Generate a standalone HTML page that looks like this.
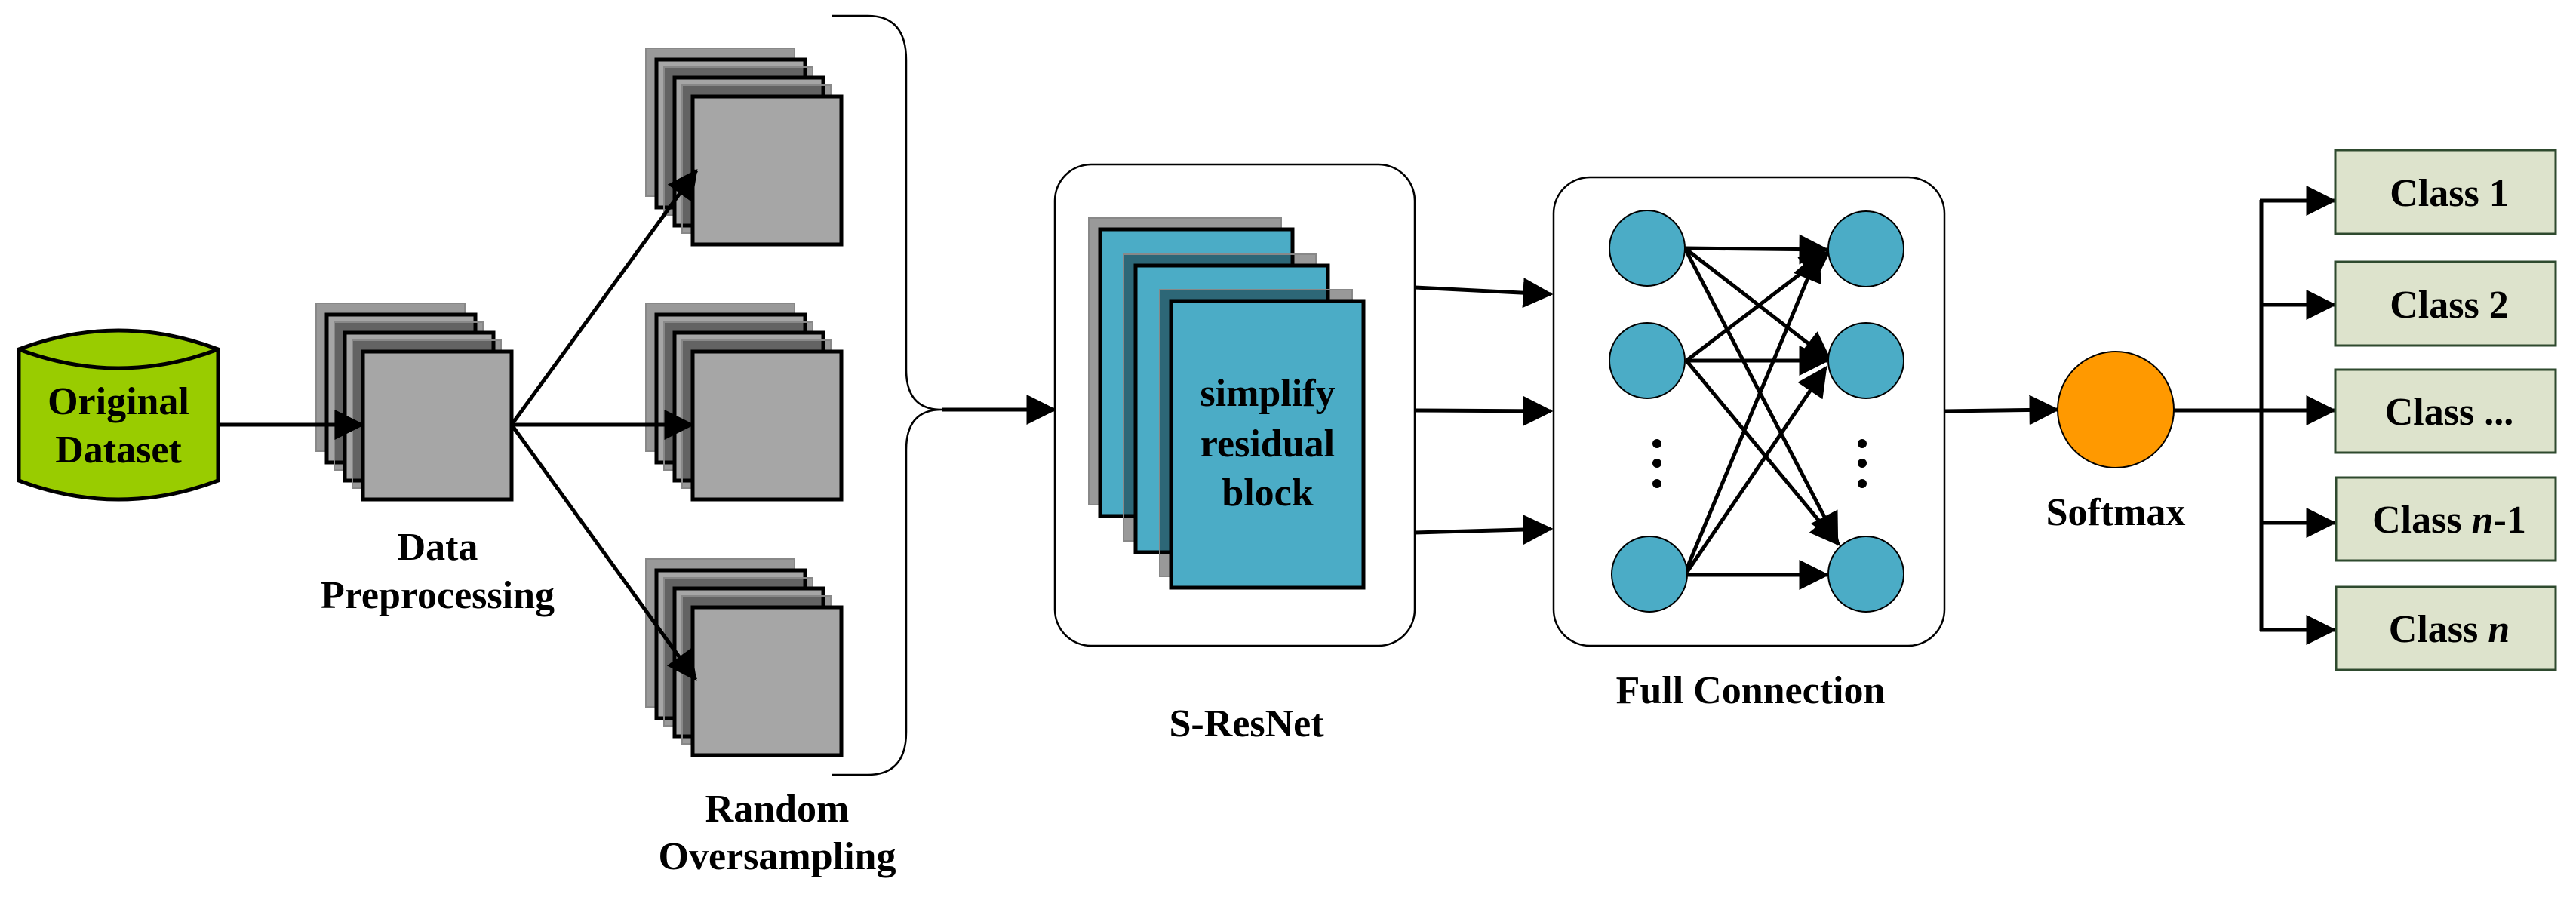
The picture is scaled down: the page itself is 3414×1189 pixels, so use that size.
<!DOCTYPE html>
<html><head><meta charset="utf-8"><style>
html,body{margin:0;padding:0;background:#fff;}
svg{display:block;}
text{font-family:"Liberation Serif",serif;font-weight:bold;fill:#000;}
</style></head><body>
<svg width="3414" height="1189" viewBox="0 0 3414 1189" xmlns="http://www.w3.org/2000/svg">
<defs>
<marker id="ah" markerWidth="8" markerHeight="8" refX="7.5" refY="4" orient="auto" markerUnits="strokeWidth">
<path d="M0,0 L8,4 L0,8 Z" fill="#000"/>
</marker>
<marker id="ahs" markerWidth="8" markerHeight="8" refX="7.5" refY="4" orient="auto" markerUnits="strokeWidth">
<path d="M0,0 L8,4 L0,8 Z" fill="#000"/>
</marker>
<g id="stk">
<rect x="0" y="0" width="197" height="196" fill="#000" fill-opacity="0.4" stroke="#888" stroke-width="2"/>
<rect x="14" y="15" width="197" height="196" fill="#a6a6a6" stroke="#000" stroke-width="5"/>
<rect x="24" y="25" width="197" height="196" fill="#000" fill-opacity="0.4" stroke="#888" stroke-width="2"/>
<rect x="38" y="39" width="197" height="196" fill="#a6a6a6" stroke="#000" stroke-width="5"/>
<rect x="48" y="49" width="197" height="196" fill="#000" fill-opacity="0.4" stroke="#888" stroke-width="2"/>
<rect x="62" y="64" width="197" height="196" fill="#a6a6a6" stroke="#000" stroke-width="5"/>
</g>
</defs>

<!-- Cylinder -->
<path d="M25,463 Q157,413 289,463 L289,637 Q157,687 25,637 Z" fill="#99cc00" stroke="#000" stroke-width="5"/>
<path d="M25,463 Q157,513 289,463" fill="none" stroke="#000" stroke-width="5"/>
<text x="157" y="549" font-size="52" text-anchor="middle">Original</text>
<text x="157" y="613" font-size="52" text-anchor="middle">Dataset</text>

<!-- stacks -->
<use href="#stk" x="419" y="402"/>
<use href="#stk" x="856" y="64"/>
<use href="#stk" x="856" y="402"/>
<use href="#stk" x="856" y="741"/>

<line x1="289" y1="563" x2="481" y2="563" stroke="#000" stroke-width="5" marker-end="url(#ah)"/>
<line x1="678" y1="563" x2="923" y2="226" stroke="#000" stroke-width="5" marker-end="url(#ah)"/>
<line x1="678" y1="563" x2="918" y2="563" stroke="#000" stroke-width="5" marker-end="url(#ah)"/>
<line x1="678" y1="563" x2="922" y2="901" stroke="#000" stroke-width="5" marker-end="url(#ah)"/>

<text x="580" y="742" font-size="52" text-anchor="middle">Data</text>
<text x="580" y="806" font-size="52" text-anchor="middle">Preprocessing</text>
<text x="1030" y="1089" font-size="52" text-anchor="middle">Random</text>
<text x="1030" y="1152" font-size="52" text-anchor="middle">Oversampling</text>

<!-- Brace -->
<path d="M1103,21 L1150,21 Q1201,21 1201,80 L1201,490 Q1201,543 1248,543 Q1201,543 1201,596 L1201,970 Q1201,1027 1150,1027 L1103,1027" fill="none" stroke="#000" stroke-width="2.5"/>
<line x1="1248" y1="543" x2="1398" y2="543" stroke="#000" stroke-width="5" marker-end="url(#ah)"/>

<!-- S-ResNet -->
<rect x="1398" y="218" width="477" height="638" rx="48" ry="48" fill="#fff" stroke="#000" stroke-width="2.5"/>
<rect x="1443" y="289" width="255" height="380" fill="#000" fill-opacity="0.4" stroke="#888" stroke-width="2"/>
<rect x="1458" y="304" width="255" height="380" fill="#4bacc6" stroke="#000" stroke-width="5"/>
<rect x="1489" y="337" width="255" height="380" fill="#000" fill-opacity="0.4" stroke="#888" stroke-width="2"/>
<rect x="1505" y="352" width="255" height="380" fill="#4bacc6" stroke="#000" stroke-width="5"/>
<rect x="1537" y="384" width="255" height="380" fill="#000" fill-opacity="0.4" stroke="#888" stroke-width="2"/>
<rect x="1552" y="399" width="255" height="380" fill="#4bacc6" stroke="#000" stroke-width="5"/>
<text x="1680" y="538" font-size="52" text-anchor="middle">simplify</text>
<text x="1680" y="605" font-size="52" text-anchor="middle">residual</text>
<text x="1680" y="670" font-size="52" text-anchor="middle">block</text>
<text x="1652" y="976" font-size="52" text-anchor="middle">S-ResNet</text>

<line x1="1875" y1="381" x2="2056" y2="390" stroke="#000" stroke-width="5" marker-end="url(#ah)"/>
<line x1="1875" y1="544" x2="2056" y2="545" stroke="#000" stroke-width="5" marker-end="url(#ah)"/>
<line x1="1875" y1="706" x2="2056" y2="701" stroke="#000" stroke-width="5" marker-end="url(#ah)"/>

<!-- Full connection -->
<rect x="2059" y="235" width="518" height="621" rx="48" ry="48" fill="#fff" stroke="#000" stroke-width="2.5"/>
<g stroke="#000" stroke-width="5" marker-end="url(#ahs)">
<line x1="2233" y1="329" x2="2422" y2="331"/>
<line x1="2233" y1="329" x2="2426" y2="478"/>
<line x1="2233" y1="329" x2="2435" y2="718"/>
<line x1="2235" y1="478" x2="2424" y2="334"/>
<line x1="2235" y1="478" x2="2422" y2="478"/>
<line x1="2235" y1="478" x2="2437" y2="722"/>
<line x1="2235" y1="755" x2="2410" y2="335"/>
<line x1="2236" y1="758" x2="2420" y2="487"/>
<line x1="2236" y1="762" x2="2422" y2="762"/>
</g>
<g fill="#4bacc6" stroke="#000" stroke-width="2">
<circle cx="2183" cy="329" r="50"/>
<circle cx="2183" cy="478" r="50"/>
<circle cx="2186" cy="761" r="50"/>
<circle cx="2473" cy="330" r="50"/>
<circle cx="2473" cy="478" r="50"/>
<circle cx="2473" cy="761" r="50"/>
</g>
<g fill="#000">
<circle cx="2196" cy="588" r="6"/><circle cx="2196" cy="614" r="6"/><circle cx="2196" cy="641" r="6"/>
<circle cx="2468" cy="588" r="6"/><circle cx="2468" cy="614" r="6"/><circle cx="2468" cy="641" r="6"/>
</g>
<text x="2320" y="932" font-size="52" text-anchor="middle">Full Connection</text>

<!-- Softmax -->
<line x1="2577" y1="545" x2="2727" y2="543" stroke="#000" stroke-width="5" marker-end="url(#ah)"/>
<circle cx="2804" cy="543" r="77" fill="#ff9900" stroke="#000" stroke-width="2"/>
<text x="2804" y="696" font-size="52" text-anchor="middle">Softmax</text>
<line x1="2881" y1="544" x2="2997" y2="544" stroke="#000" stroke-width="5"/>
<line x1="2997" y1="265" x2="2997" y2="836" stroke="#000" stroke-width="5"/>
<g stroke="#000" stroke-width="5" marker-end="url(#ah)">
<line x1="2995" y1="266" x2="3094" y2="266"/>
<line x1="2997" y1="404" x2="3094" y2="404"/>
<line x1="2997" y1="544" x2="3094" y2="544"/>
<line x1="2997" y1="693" x2="3094" y2="693"/>
<line x1="2995" y1="835" x2="3094" y2="835"/>
</g>
<g fill="#dde3cc" stroke="#2e4a2e" stroke-width="3">
<rect x="3095" y="199" width="292" height="111"/>
<rect x="3095" y="347" width="292" height="111"/>
<rect x="3095" y="490" width="292" height="110"/>
<rect x="3096" y="633" width="291" height="110"/>
<rect x="3096" y="778" width="291" height="110"/>
</g>
<text x="3246" y="273" font-size="52" text-anchor="middle">Class 1</text>
<text x="3246" y="421" font-size="52" text-anchor="middle">Class 2</text>
<text x="3246" y="563" font-size="52" text-anchor="middle">Class ...</text>
<text x="3246" y="706" font-size="52" text-anchor="middle">Class <tspan font-style="italic">n</tspan>-1</text>
<text x="3246" y="851" font-size="52" text-anchor="middle">Class <tspan font-style="italic">n</tspan></text>
</svg>
</body></html>
